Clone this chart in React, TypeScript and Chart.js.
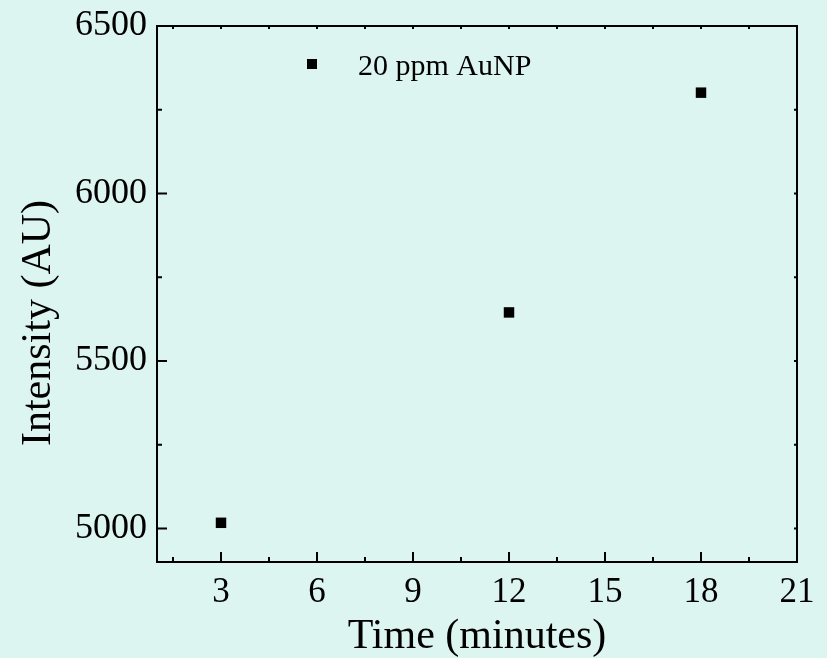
import React, { useEffect, useRef } from 'react';
import { Chart, registerables } from 'chart.js';

Chart.register(...registerables);

const seriesLabel = '20 ppm AuNP';
const timeMinutes = [3, 12, 18];
const intensityAU = [5017, 5645, 6301];
const xTickValues = [3, 6, 9, 12, 15, 18, 21];
const xMinorValues = [1.5, 4.5, 7.5, 10.5, 13.5, 16.5, 19.5];
const yTickValues = [5000, 5500, 6000, 6500];
const yMinorValues = [5250, 5750, 6250];
const xTitle = 'Time (minutes)';
const yTitle = 'Intensity (AU)';
const xRange = [1, 21];
const yRange = [4900, 6500];

const BG = '#dcf5f0';
const FONT = "'Liberation Serif', 'Times New Roman', serif";

export default function App() {
  const ref = useRef<HTMLCanvasElement | null>(null);

  useEffect(() => {
    document.body.style.margin = '0';
    document.body.style.background = BG;
    const canvas = ref.current;
    if (!canvas) return;

    const framePlugin = {
      id: 'frame',
      beforeDraw(chart: any) {
        const c = chart.ctx;
        c.save();
        c.fillStyle = BG;
        c.fillRect(0, 0, chart.width, chart.height);
        c.restore();
      },
      afterDraw(chart: any) {
        const c = chart.ctx;
        const { left, right, top, bottom } = chart.chartArea;
        const xs = chart.scales.x;
        const ys = chart.scales.y;
        c.save();
        c.strokeStyle = '#000';
        c.lineWidth = 2;
        c.strokeRect(left, top, right - left, bottom - top);
        c.beginPath();
        xTickValues.forEach((v) => {
          const px = xs.getPixelForValue(v);
          c.moveTo(px, bottom);
          c.lineTo(px, bottom - 10);
          c.moveTo(px, top);
          c.lineTo(px, top + 3);
        });
        xMinorValues.forEach((v) => {
          const px = xs.getPixelForValue(v);
          c.moveTo(px, bottom);
          c.lineTo(px, bottom - 5);
          c.moveTo(px, top);
          c.lineTo(px, top + 3);
        });
        yTickValues.forEach((v) => {
          const py = ys.getPixelForValue(v);
          c.moveTo(left, py);
          c.lineTo(left + 10, py);
          c.moveTo(right, py);
          c.lineTo(right - 3, py);
        });
        yMinorValues.forEach((v) => {
          const py = ys.getPixelForValue(v);
          c.moveTo(left, py);
          c.lineTo(left + 5, py);
          c.moveTo(right, py);
          c.lineTo(right - 3, py);
        });
        c.stroke();

        // legend
        const mx = left + 155;
        const my = top + 38;
        c.fillStyle = '#000';
        c.fillRect(mx - 5, my - 5, 10, 10);
        c.font = `30px ${FONT}`;
        c.textBaseline = 'alphabetic';
        c.textAlign = 'left';
        c.fillText(seriesLabel, left + 201, top + 49);

        // y-axis title
        c.save();
        c.translate(50, (top + bottom) / 2 + 29);
        c.rotate(-Math.PI / 2);
        c.font = `42px ${FONT}`;
        c.textAlign = 'center';
        c.textBaseline = 'alphabetic';
        c.fillText(yTitle, 0, 0);
        c.restore();
        c.restore();
      },
    };

    const chart = new Chart(canvas, {
      type: 'scatter',
      data: {
        datasets: [
          {
            label: seriesLabel,
            data: timeMinutes.map((t, i) => ({ x: t, y: intensityAU[i] })),
            pointStyle: 'rect',
            pointRadius: 7.4,
            pointBorderWidth: 0,
            backgroundColor: '#000',
            borderColor: '#000',
          },
        ],
      },
      options: {
        responsive: false,
        animation: false,
        layout: { padding: { top: 26, right: 30, left: 0, bottom: 0 } },
        plugins: { legend: { display: false }, tooltip: { enabled: false } },
        scales: {
          x: {
            type: 'linear',
            min: xRange[0],
            max: xRange[1],
            grid: { display: false, drawTicks: false },
            border: { display: false },
            afterBuildTicks: (s: any) => {
              s.ticks = xTickValues.map((v) => ({ value: v }));
            },
            afterFit: (s: any) => {
              s.height = 96;
              s.paddingLeft = 0;
              s.paddingRight = 0;
            },
            ticks: {
              color: '#000',
              padding: 10,
              maxRotation: 0,
              autoSkip: false,
              font: { family: FONT, size: 35 },
              callback: (v: any) => String(v),
            },
            title: {
              display: true,
              text: xTitle,
              color: '#000',
              padding: 0,
              font: { family: FONT, size: 42, lineHeight: 1 },
            },
          },
          y: {
            type: 'linear',
            min: yRange[0],
            max: yRange[1],
            grid: { display: false, drawTicks: false },
            border: { display: false },
            afterBuildTicks: (s: any) => {
              s.ticks = yTickValues.map((v) => ({ value: v }));
            },
            afterFit: (s: any) => {
              s.width = 157;
              s.paddingTop = 0;
              s.paddingBottom = 0;
            },
            ticks: {
              color: '#000',
              padding: 10,
              autoSkip: false,
              font: { family: FONT, size: 36 },
              callback: (v: any) => String(v),
            },
            title: { display: false, text: yTitle },
          },
        },
      },
      plugins: [framePlugin],
    });
    return () => chart.destroy();
  }, []);

  return (
    <div style={{ position: 'absolute', left: 0, top: 0, width: 827, height: 658, background: BG }}>
      <canvas ref={ref} width={827} height={658} />
    </div>
  );
}
